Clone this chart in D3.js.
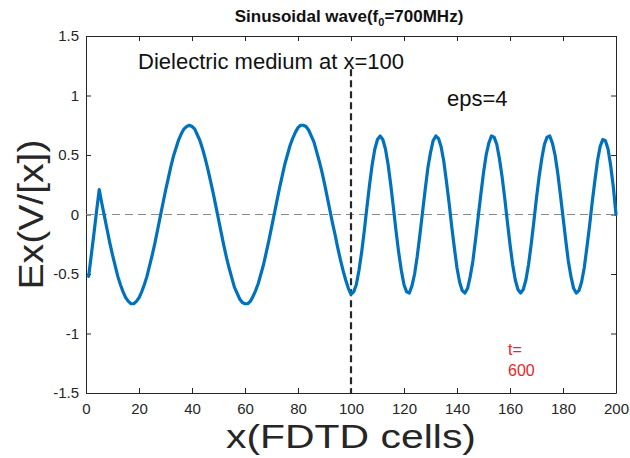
<!DOCTYPE html>
<html lang="en">

<head>
  <meta charset="UTF-8">
  <title>Sinusoidal wave</title>
  <style>
    body { margin: 0; background: #fff; }
    text { font-family: 'Liberation Sans', Arial, sans-serif; }
  </style>
</head>

<body>
  <svg id="svg" width="630" height="458"></svg>

  <script src="https://d3js.org/d3.v7.min.js"></script>
  <script>
    // Ex field along the grid, cells 1..200
    const ex = [
      -0.52, -0.34, -0.16, 0.03, 0.21, 0.09, -0.02, -0.13, -0.24, -0.34,
      -0.43, -0.52, -0.59, -0.65, -0.70, -0.73, -0.75, -0.75, -0.73, -0.70,
      -0.65, -0.59, -0.52, -0.43, -0.34, -0.24, -0.13, -0.02, 0.09, 0.20,
      0.30, 0.40, 0.49, 0.56, 0.63, 0.68, 0.72, 0.74, 0.75, 0.74,
      0.72, 0.67, 0.62, 0.55, 0.47, 0.38, 0.28, 0.18, 0.07, -0.04,
      -0.15, -0.26, -0.36, -0.45, -0.53, -0.61, -0.66, -0.71, -0.74, -0.75,
      -0.75, -0.73, -0.69, -0.64, -0.58, -0.50, -0.42, -0.32, -0.22, -0.11,
      0.00, 0.11, 0.22, 0.32, 0.42, 0.50, 0.58, 0.64, 0.69, 0.73,
      0.75, 0.75, 0.74, 0.71, 0.66, 0.61, 0.53, 0.45, 0.36, 0.26,
      0.15, 0.04, -0.07, -0.17, -0.28, -0.38, -0.47, -0.55, -0.62, -0.67,
      -0.65, -0.59, -0.47, -0.32, -0.14, 0.06, 0.25, 0.42, 0.55, 0.63,
      0.66, 0.63, 0.55, 0.42, 0.25, 0.06, -0.14, -0.32, -0.47, -0.59,
      -0.65, -0.66, -0.60, -0.50, -0.35, -0.17, 0.02, 0.21, 0.39, 0.52,
      0.62, 0.66, 0.64, 0.57, 0.45, 0.28, 0.10, -0.10, -0.28, -0.45,
      -0.57, -0.64, -0.66, -0.62, -0.52, -0.39, -0.21, -0.02, 0.17, 0.35,
      0.50, 0.60, 0.66, 0.65, 0.59, 0.47, 0.32, 0.14, -0.06, -0.25,
      -0.42, -0.55, -0.63, -0.66, -0.63, -0.55, -0.42, -0.25, -0.06, 0.14,
      0.32, 0.47, 0.59, 0.65, 0.66, 0.60, 0.50, 0.35, 0.17, -0.02,
      -0.21, -0.39, -0.52, -0.62, -0.66, -0.64, -0.57, -0.45, -0.28, -0.10,
      0.10, 0.28, 0.45, 0.57, 0.63, 0.62, 0.55, 0.41, 0.23, 0.00
    ]
    const xTicks = [0, 20, 40, 60, 80, 100, 120, 140, 160, 180, 200]
    const yTicks = [-1.5, -1, -0.5, 0, 0.5, 1, 1.5]
    const interfaceX = 100
    const interfaceTop = 1.22

    const plotL = 86, plotR = 616, plotT = 36, plotB = 393

    const x = d3.scaleLinear().domain([0, 200]).range([plotL, plotR])
    const y = d3.scaleLinear().domain([-1.5, 1.5]).range([plotB, plotT])

    const svg = d3.select('#svg')
    svg.append('rect').attr('width', 630).attr('height', 458).attr('fill', '#fff')

    const axisColor = '#262626'
    const fmt = d => String(d)

    // box with inward ticks on all four sides
    svg.append('g').attr('transform', `translate(0,${plotB})`)
      .call(d3.axisBottom(x).tickValues(xTicks).tickFormat(fmt).tickSizeInner(-5).tickSizeOuter(0).tickPadding(10))
    svg.append('g').attr('transform', `translate(0,${plotT})`)
      .call(d3.axisTop(x).tickValues(xTicks).tickFormat('').tickSizeInner(-5).tickSizeOuter(0))
    svg.append('g').attr('transform', `translate(${plotL},0)`)
      .call(d3.axisLeft(y).tickValues(yTicks).tickFormat(fmt).tickSizeInner(-5).tickSizeOuter(0).tickPadding(7))
    svg.append('g').attr('transform', `translate(${plotR},0)`)
      .call(d3.axisRight(y).tickValues(yTicks).tickFormat('').tickSizeInner(-5).tickSizeOuter(0))

    svg.selectAll('.domain').attr('stroke', axisColor)
    svg.selectAll('.tick line').attr('stroke', axisColor)
    svg.selectAll('.tick text').attr('fill', axisColor).style('font-size', '15px')
      .style('font-family', "'Liberation Sans', Arial, sans-serif")

    // zero reference line
    svg.append('line')
      .attr('x1', x(0)).attr('x2', x(200))
      .attr('y1', y(0)).attr('y2', y(0))
      .attr('stroke', '#8a8a8a')
      .attr('stroke-width', 1)
      .attr('stroke-dasharray', '8,5')

    // interface of the dielectric
    svg.append('line')
      .attr('x1', x(interfaceX)).attr('x2', x(interfaceX))
      .attr('y1', y(interfaceTop)).attr('y2', y(-1.5))
      .attr('stroke', '#262626')
      .attr('stroke-width', 2.2)
      .attr('stroke-dasharray', '7,4')

    // the wave
    const line = d3.line()
      .x((d, i) => x(i + 1))
      .y(d => y(d))

    svg.append('path')
      .datum(ex)
      .attr('d', line)
      .attr('fill', 'none')
      .attr('stroke', '#0072BD')
      .attr('stroke-width', 3.2)
      .attr('stroke-linejoin', 'round')
      .attr('stroke-linecap', 'round')

    // title
    const title = svg.append('text')
      .attr('x', 349)
      .attr('y', 22)
      .attr('text-anchor', 'middle')
      .style('font-size', '17px')
      .style('font-weight', 'bold')
      .attr('fill', '#111')
    title.append('tspan').text('Sinusoidal wave(f')
    title.append('tspan').text('0').attr('dy', 4).style('font-size', '11px')
    title.append('tspan').text('=700MHz)').attr('dy', -4)

    // axis labels (slightly wide lettering, as in the original)
    svg.append('text')
      .attr('x', 351)
      .attr('y', 448)
      .attr('text-anchor', 'middle')
      .attr('textLength', 250)
      .attr('lengthAdjust', 'spacingAndGlyphs')
      .style('font-size', '33px')
      .attr('fill', axisColor)
      .text('x(FDTD cells)')

    svg.append('text')
      .attr('transform', `translate(43,${(plotT + plotB) / 2}) rotate(-90)`)
      .attr('text-anchor', 'middle')
      .attr('textLength', 150)
      .attr('lengthAdjust', 'spacingAndGlyphs')
      .style('font-size', '35px')
      .attr('fill', axisColor)
      .text('Ex(V/[x])')

    // annotations
    svg.append('text')
      .attr('x', 138).attr('y', 69)
      .style('font-size', '22px')
      .attr('fill', '#111')
      .text('Dielectric medium at x=100')

    svg.append('text')
      .attr('x', 447).attr('y', 106)
      .style('font-size', '22px')
      .attr('fill', '#111')
      .text('eps=4')

    svg.append('text')
      .attr('x', 508).attr('y', 355)
      .style('font-size', '16px')
      .attr('fill', '#e8262b')
      .text('t=')

    svg.append('text')
      .attr('x', 508).attr('y', 376)
      .style('font-size', '16px')
      .attr('fill', '#e8262b')
      .text('600')
  </script>

</body>

</html>
